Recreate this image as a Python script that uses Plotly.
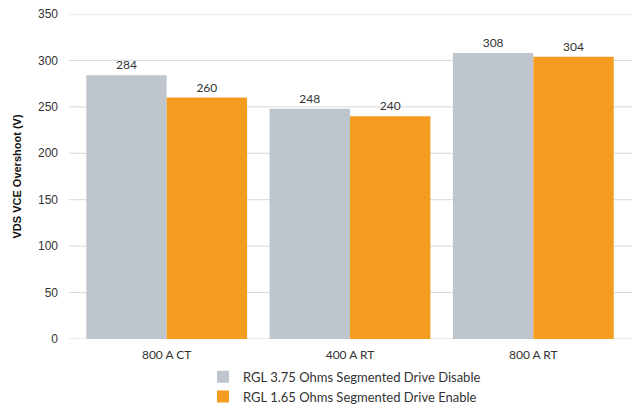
import plotly.graph_objects as go

categories = ["800 A CT", "400 A RT", "800 A RT"]
disable_vals = [284, 248, 308]
enable_vals = [260, 240, 304]
series_names = [
    "RGL 3.75 Ohms Segmented Drive Disable",
    "RGL 1.65 Ohms Segmented Drive Enable",
]
y_ticks = [0, 50, 100, 150, 200, 250, 300, 350]

GRAY = "#BEC5CC"
ORANGE = "#F39C20"
TEXT = "#333333"

fig = go.Figure()
for name, vals, color in [
    (series_names[0], disable_vals, GRAY),
    (series_names[1], enable_vals, ORANGE),
]:
    fig.add_trace(go.Bar(
        x=categories, y=vals, name=name,
        marker=dict(color=color, line=dict(width=0)),
        text=[str(v) for v in vals], textposition="outside",
        textfont=dict(family="Lato, sans-serif", size=12, color=TEXT),
        cliponaxis=False,
    ))

# horizontal gridlines, slightly wider than the plotting area
shapes = [
    dict(type="line", xref="paper", yref="y", x0=-0.011, x1=1.013, y0=t, y1=t,
         line=dict(color="#D9D9D9", width=1), layer="below")
    for t in y_ticks
]

fig.update_layout(
    width=633, height=406,
    margin=dict(l=75, r=8, t=14, b=67, autoexpand=False),
    paper_bgcolor="white", plot_bgcolor="white",
    barmode="group", bargap=0.123, bargroupgap=0,
    shapes=shapes,
    font=dict(family="Lato, sans-serif", color=TEXT),
    xaxis=dict(
        showgrid=False, showline=False, zeroline=False,
        tickfont=dict(family="Lato, sans-serif", size=12, color=TEXT),
        ticklabelstandoff=7,
    ),
    yaxis=dict(
        range=[0, 350], tickvals=y_ticks, showgrid=False, zeroline=False,
        showline=False,
        tickfont=dict(family="Liberation Sans, Arial, sans-serif", size=12, color=TEXT),
        ticklabelstandoff=16,
        title=dict(text="<b>VDS VCE Overshoot (V)</b>",
                   font=dict(family="Liberation Sans, Arial, sans-serif", size=11, color="#111111"),
                   standoff=14),
    ),
    legend=dict(
        orientation="v", x=0.49, xanchor="center", y=-0.07, yanchor="top",
        font=dict(family="Lato, sans-serif", size=13, color=TEXT),
        itemwidth=30, tracegroupgap=0,
    ),
    showlegend=True,
)

fig.write_html("out.html")
